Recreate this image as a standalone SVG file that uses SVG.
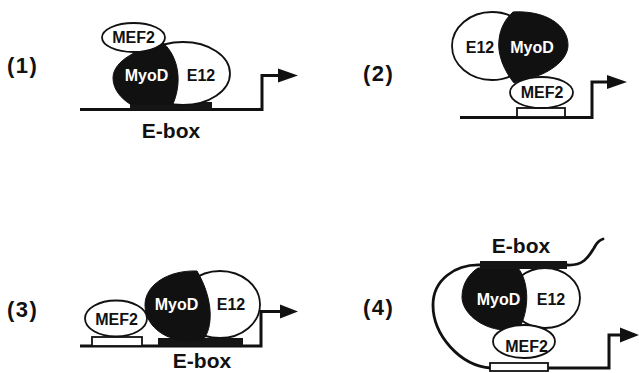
<svg xmlns="http://www.w3.org/2000/svg" width="639" height="373" viewBox="0 0 639 373">
<defs>
<style>
.dna{fill:none;stroke:#111;stroke-width:3;stroke-linejoin:miter}
.thin{fill:none;stroke:#111;stroke-width:2.8;stroke-linecap:round}
.wh{fill:#fff;stroke:#111;stroke-width:1.8}
.bk{fill:#111;stroke:#111;stroke-width:1}
.site{fill:#fff;stroke:#111;stroke-width:1.8}
.ebar{fill:#151515}
.lbl{font-family:"Liberation Sans",Arial,sans-serif;font-weight:bold;font-size:22px;fill:#111;letter-spacing:1.5px}
.t{font-family:"Liberation Sans",Arial,sans-serif;font-weight:bold;font-size:16px;text-anchor:middle}
.tb{fill:#111}
.tw{fill:#fff}
.eb{font-family:"Liberation Sans",Arial,sans-serif;font-weight:bold;font-size:21px;fill:#111;text-anchor:middle}
.ah{fill:#111}
</style>
</defs>
<rect width="639" height="373" fill="#fff"/>

<g id="labels">
<text class="lbl" x="7" y="73">(1)</text>
<text class="lbl" x="363" y="81">(2)</text>
<text class="lbl" x="7" y="317">(3)</text>
<text class="lbl" x="363" y="315">(4)</text>
</g>

<g id="connectors">
<path class="dna" d="M80,109.5 H262 V75.5 H281"/>
<polygon class="ah" points="278,68.5 298,75.5 278,82.5"/>
<path class="dna" d="M460,117.5 H592 V82 H609"/>
<polygon class="ah" points="607,75 627,82 607,89"/>
<path class="dna" d="M80,346 H261 V311.5 H282"/>
<polygon class="ah" points="280,304.5 298,311.5 280,318.5"/>
<path class="thin" d="M481,265 C455,264 433,280 433,305 C433,335 460,366 491,368"/>
<path class="thin" d="M567,265 C584,266 589,256 594,248 C597,242 599,240 603,239"/>
<path class="dna" d="M548,368 H609 V335 H622"/>
<polygon class="ah" points="620,327.5 639,335 620,342.5"/>
</g>

<g id="panel1">
<g id="p1-ebox"><rect class="ebar" x="130" y="102" width="82" height="8"/>
<text class="eb" x="171" y="138">E-box</text></g>
<g id="p1-e12"><ellipse class="wh" cx="183" cy="73.5" rx="47" ry="31.5"/>
<text class="t tb" x="201" y="81">E12</text></g>
<g id="p1-myod"><path class="bk" d="M163,43 C140,48 113,60 113,78 C113,90 122,99 130,104 L173,104 C178,92 180,78 176,64 C173,54 168,47 163,43 Z"/>
<text class="t tw" x="146.5" y="81">MyoD</text></g>
<g id="p1-mef2"><ellipse class="wh" cx="133.5" cy="37.5" rx="31.5" ry="14.5"/>
<text class="t tb" x="133.5" y="43">MEF2</text></g>
</g>

<g id="panel2">
<g id="p2-site"><rect class="site" x="517" y="108" width="48" height="9"/></g>
<g id="p2-e12"><ellipse class="wh" cx="492" cy="46" rx="40" ry="34"/>
<text class="t tb" x="480" y="53">E12</text></g>
<g id="p2-myod"><path class="bk" d="M513,12 C545,10 568,25 568,45 C568,62 545,75 530,78 C522,80 516,82 514,83 C505,72 497,55 499,40 C500,28 506,18 513,12 Z"/>
<text class="t tw" x="532" y="53">MyoD</text></g>
<g id="p2-mef2"><ellipse class="wh" cx="541.5" cy="92.5" rx="31.5" ry="15.5"/>
<text class="t tb" x="542" y="98">MEF2</text></g>
</g>

<g id="panel3">
<g id="p3-site"><rect class="site" x="92" y="337" width="50" height="9"/></g>
<g id="p3-ebox"><rect class="ebar" x="158" y="338" width="85" height="8"/>
<text class="eb" x="202" y="368">E-box</text></g>
<g id="p3-mef2"><ellipse class="wh" cx="116" cy="318.5" rx="31" ry="18"/>
<text class="t tb" x="116.5" y="325">MEF2</text></g>
<g id="p3-e12"><ellipse class="wh" cx="220" cy="304.5" rx="40" ry="33.5"/>
<text class="t tb" x="231" y="310">E12</text></g>
<g id="p3-myod"><path class="bk" d="M197,271 C168,270 145,285 145,305 C145,325 163,339 185,341 L203,340 C213,328 214,300 197,271 Z"/>
<text class="t tw" x="176.5" y="310">MyoD</text></g>
</g>

<g id="panel4">
<g id="p4-site"><rect class="site" x="490" y="363" width="58" height="8"/></g>
<g id="p4-e12"><ellipse class="wh" cx="545" cy="298" rx="35" ry="30"/>
<text class="t tb" x="551" y="305">E12</text></g>
<g id="p4-myod"><path class="bk" d="M478,268 L518,268 C528,280 530,305 521,325 C515,330 508,331 503,330 C480,328 462,312 462,297 C462,283 470,273 478,268 Z"/>
<text class="t tw" x="498.5" y="305">MyoD</text></g>
<g id="p4-ebox"><rect class="ebar" x="480" y="261" width="87" height="8"/>
<text class="eb" x="521" y="253">E-box</text></g>
<g id="p4-mef2"><ellipse class="wh" cx="524" cy="341.5" rx="31" ry="16.5"/>
<text class="t tb" x="526.5" y="352">MEF2</text></g>
</g>
</svg>
